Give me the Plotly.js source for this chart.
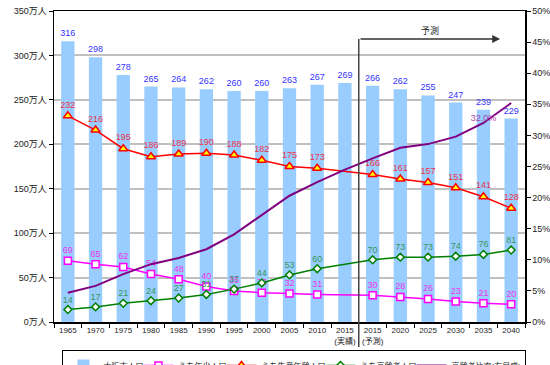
<!DOCTYPE html>
<html>
<head>
<meta charset="utf-8">
<script src="https://cdn.plot.ly/plotly-3.0.1.min.js"></script>
<style>html,body{margin:0;padding:0;background:#fff;}#chart{width:550px;height:365px;}</style>
</head>
<body>
<div id="chart"></div>
<script>
var categories = ['1965','1970','1975','1980','1985','1990','1995','2000','2005','2010','2015<br>(実績)','2015<br>(予測)','2020','2025','2030','2035','2040'];
var totalPop   = [316,298,278,265,264,262,260,260,263,267,269,266,262,255,247,239,229];
var youngPop   = [69,65,62,54,48,40,35,33,32,31,null,30,28,26,23,21,20];
var workingPop = [232,216,195,186,189,190,188,182,175,173,null,166,161,157,151,141,128];
var elderlyPop = [14,17,21,24,27,31,37,44,53,60,null,70,73,73,74,76,81];
var elderlyRatio = [4.7,5.8,7.7,9.3,10.3,11.7,14.1,17.2,20.3,22.5,24.5,26.3,28.0,28.6,29.8,32.0,35.2];
var ratioLabels = ['','','','','','','','','','','','','','','','32.0%',''];
var leftTickVals = [0,50,100,150,200,250,300,350];
var leftTickText = ['0万人','50万人','100万人','150万人','200万人','250万人','300万人','350万人'];
var rightTickVals = [0,5,10,15,20,25,30,35,40,45,50];
var rightTickText = ['0%','5%','10%','15%','20%','25%','30%','35%','40%','45%','50%'];
var seriesNames = ['大阪市人口','うち年少人口','うち生産年齢人口','うち高齢者人口','高齢者比率(右目盛)'];
var legendWidths = [30,38,54,46,69];

var FONT = 'Liberation Sans, Arial, Noto Sans CJK JP, sans-serif';
function lbl(arr){return arr.map(function(v){return v===null?'':String(v);});}

var traces = [
  {type:'bar', name:seriesNames[0], legendwidth:legendWidths[0], x:categories, y:totalPop,
   marker:{color:'#99ccff'}, text:lbl(totalPop), textposition:'outside', constraintext:'none',
   textfont:{family:FONT, size:9, color:'#3333ff'}, cliponaxis:false, hoverinfo:'skip'},
  {type:'scatter', mode:'lines+markers+text', name:seriesNames[1], legendwidth:legendWidths[1], x:categories, y:youngPop,
   connectgaps:true, line:{color:'#ff00ff', width:1.5},
   marker:{symbol:'square', size:7, color:'#ffffff', line:{color:'#ff00ff', width:1.5}},
   text:lbl(youngPop), textposition:'top center', textfont:{family:FONT, size:9, color:'#ee33ee'}, cliponaxis:false},
  {type:'scatter', mode:'lines+markers+text', name:seriesNames[2], legendwidth:legendWidths[2], x:categories, y:workingPop,
   connectgaps:true, line:{color:'#ff0000', width:1.5},
   marker:{symbol:'triangle-up', size:8, color:'#ffff00', line:{color:'#ff0000', width:1.5}},
   text:lbl(workingPop), textposition:'top center', textfont:{family:FONT, size:9, color:'#ee3344'}, cliponaxis:false},
  {type:'scatter', mode:'lines+markers+text', name:seriesNames[3], legendwidth:legendWidths[3], x:categories, y:elderlyPop,
   connectgaps:true, line:{color:'#008000', width:1.5},
   marker:{symbol:'diamond', size:6, color:'#ffffff', line:{color:'#008000', width:1.5}},
   text:lbl(elderlyPop), textposition:'top center', textfont:{family:FONT, size:9, color:'#339955'}, cliponaxis:false},
  {type:'scatter', mode:'lines+text', name:seriesNames[4], legendwidth:legendWidths[4], x:categories, y:elderlyRatio, yaxis:'y2',
   line:{color:'#800080', width:2},
   text:ratioLabels, textposition:'top center', textfont:{family:FONT, size:9, color:'#aa44aa'}, cliponaxis:false}
];

var layout = {
  width:550, height:365,
  margin:{l:54, r:25, t:11, b:43, autoexpand:false},
  paper_bgcolor:'#ffffff', plot_bgcolor:'#ffffff',
  font:{family:FONT, size:9, color:'#222'},
  showlegend:true,
  bargap:0.52,
  xaxis:{type:'category', categoryorder:'array', categoryarray:categories, range:[-0.5, 16.5], autorange:false,
    showline:true, linecolor:'#000', linewidth:1.5, mirror:true, tickangle:0,
    ticks:'outside', ticklen:4, tickson:'boundaries', tickcolor:'#000',
    tickfont:{family:FONT, size:8, color:'#222'}, showgrid:false, fixedrange:true},
  yaxis:{range:[0,350], tickvals:leftTickVals, ticktext:leftTickText,
    showline:true, linecolor:'#000', linewidth:1.5, ticks:'outside', ticklen:4, tickcolor:'#000',
    showgrid:true, gridcolor:'#c0c0c0', gridwidth:2, zeroline:false,
    tickfont:{family:FONT, size:9, color:'#222'}},
  yaxis2:{range:[0,50], overlaying:'y', side:'right', tickvals:rightTickVals, ticktext:rightTickText,
    showline:true, linecolor:'#000', linewidth:1.5, ticks:'outside', ticklen:4, tickcolor:'#000',
    showgrid:false, zeroline:false, tickfont:{family:FONT, size:9, color:'#222'}},
  legend:{orientation:'h', x:0.018, xanchor:'left', y:-0.09, yanchor:'top',
    bordercolor:'#000', borderwidth:1, bgcolor:'#fff', itemwidth:30,
    font:{family:FONT, size:8, color:'#222'}},
  shapes:[
    {type:'line', xref:'x', yref:'paper', x0:10.5, x1:10.5, y0:-0.08, y1:0.91,
     line:{color:'#444', width:1.5}}
  ],
  annotations:[
    {xref:'x', yref:'paper', x:15.6, y:0.91, text:'', showarrow:true,
     axref:'pixel', ayref:'pixel', ax:-141, ay:0, arrowhead:2, arrowsize:1.2, arrowwidth:1.3,
     arrowcolor:'#333', standoff:0},
    {xref:'x', yref:'paper', x:13.07, y:0.962, text:'予測', showarrow:false,
     font:{family:FONT, size:9, color:'#222'}}
  ]
};

Plotly.newPlot('chart', traces, layout, {displayModeBar:false, staticPlot:true});
</script>
</body>
</html>
